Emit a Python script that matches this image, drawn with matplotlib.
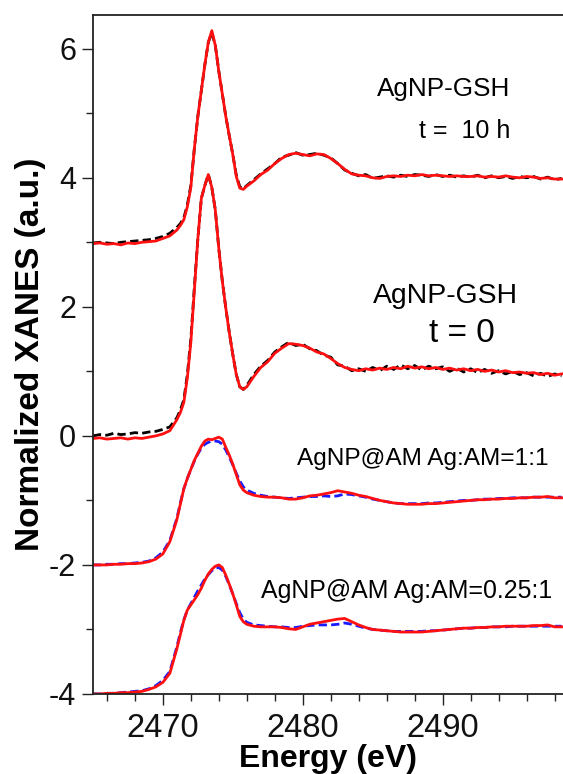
import numpy as np
import matplotlib
matplotlib.use("Agg")
import matplotlib.pyplot as plt
from matplotlib.ticker import MultipleLocator

plt.rcParams['font.family'] = ['Liberation Sans', 'DejaVu Sans']
plt.rcParams['axes.unicode_minus'] = False

# Energy sampling grid (eV)
energy = np.concatenate([np.arange(2465.0, 2470.51, 0.5),
                         np.arange(2471.0, 2476.01, 0.25),
                         np.arange(2476.5, 2498.51, 0.5)])

# AgNP-GSH, t = 10 h (offset +3)
gsh10_exp = [2.99, 3.00, 2.99, 2.98, 3.00, 3.01, 3.02, 3.03, 3.04, 3.06, 3.09, 3.14,
             3.23, 3.29, 3.38, 3.58, 3.88, 4.45, 4.95, 5.35, 5.75, 6.10, 6.25, 6.05, 5.65,
             5.30, 4.95, 4.65, 4.36, 4.04, 3.86, 3.83, 3.88,
             3.97, 4.06, 4.14, 4.22, 4.32, 4.35, 4.39, 4.35, 4.36, 4.38,
             4.35, 4.31, 4.22, 4.12, 4.07, 4.03, 4.05, 3.99, 4.01, 4.03,
             4.01, 4.04, 4.02, 4.05, 4.04, 4.02, 4.05, 4.02, 4.04, 4.01,
             4.03, 4.01, 4.04, 4.00, 4.03, 4.00, 4.02, 3.99, 4.02, 4.00,
             4.02, 3.98, 4.01, 3.97, 3.99]
gsh10_fit = [2.98, 2.99, 2.97, 2.98, 2.96, 2.99, 2.98, 3.00, 3.01, 3.02, 3.06, 3.10,
             3.19, 3.26, 3.35, 3.55, 3.85, 4.45, 4.95, 5.35, 5.75, 6.10, 6.28, 6.05, 5.65,
             5.30, 4.95, 4.65, 4.36, 4.02, 3.84, 3.82, 3.87,
             3.95, 4.05, 4.12, 4.22, 4.30, 4.36, 4.38, 4.36, 4.34, 4.37,
             4.36, 4.30, 4.22, 4.13, 4.06, 4.04, 4.03, 4.00, 3.99, 4.02,
             4.03, 4.02, 4.04, 4.03, 4.05, 4.03, 4.04, 4.03, 4.02, 4.03,
             4.02, 4.02, 4.03, 4.01, 4.02, 4.01, 4.03, 4.01, 4.00, 4.02,
             4.01, 3.99, 4.00, 3.98, 3.98]

# AgNP-GSH, t = 0 (offset 0)
gsh0_exp = [0.00, 0.02, 0.01, 0.04, 0.02, 0.03, 0.05, 0.04, 0.06, 0.07, 0.10, 0.14,
            0.28, 0.40, 0.56, 0.95, 1.50, 2.30, 3.05, 3.68, 3.88, 4.05, 3.85, 3.50, 2.90,
            2.40, 1.98, 1.60, 1.26, 0.95, 0.76, 0.72, 0.78,
            0.95, 1.08, 1.17, 1.30, 1.38, 1.45, 1.40, 1.42, 1.35, 1.32,
            1.25, 1.22, 1.10, 1.08, 1.01, 1.04, 1.00, 1.06, 1.01, 1.08,
            1.03, 1.10, 1.04, 1.09, 1.02, 1.08, 1.04, 1.07, 1.00, 1.05,
            0.99, 1.04, 0.98, 1.03, 0.97, 1.01, 0.96, 1.00, 0.95, 0.98,
            0.93, 0.97, 0.92, 0.96, 0.93]
gsh0_fit = [-0.04, -0.03, -0.05, -0.04, -0.03, -0.05, -0.03, -0.04, -0.02, 0.00, 0.03, 0.08,
            0.25, 0.36, 0.52, 0.90, 1.45, 2.25, 3.05, 3.68, 3.88, 4.05, 3.85, 3.50, 2.90,
            2.40, 1.98, 1.60, 1.26, 0.95, 0.76, 0.72, 0.76,
            0.92, 1.06, 1.15, 1.28, 1.36, 1.43, 1.42, 1.40, 1.36, 1.30,
            1.27, 1.20, 1.12, 1.06, 1.03, 1.01, 1.04, 1.02, 1.05, 1.03,
            1.06, 1.04, 1.08, 1.05, 1.07, 1.04, 1.06, 1.03, 1.05, 1.02,
            1.04, 1.01, 1.03, 1.00, 1.02, 0.99, 1.01, 0.98, 0.99, 0.97,
            0.98, 0.95, 0.97, 0.94, 0.96]

# AgNP@AM Ag:AM = 1:1 (offset -2)
am11_exp = [-2.00, -2.00, -1.99, -1.99, -1.98, -1.98, -1.97, -1.96, -1.94, -1.89, -1.80, -1.62,
            -1.28, -1.04, -0.82, -0.66, -0.52, -0.39, -0.28, -0.19, -0.13, -0.10, -0.08, -0.08, -0.09,
            -0.13, -0.22, -0.33, -0.45, -0.58, -0.70, -0.79, -0.84,
            -0.89, -0.92, -0.94, -0.95, -0.96, -0.97, -0.96, -0.95, -0.94, -0.94,
            -0.93, -0.94, -0.93, -0.90, -0.91, -0.93, -0.95, -0.98, -1.00, -1.02,
            -1.04, -1.05, -1.05, -1.05, -1.05, -1.04, -1.04, -1.03, -1.02, -1.01,
            -1.00, -1.00, -0.99, -0.98, -0.98, -0.97, -0.97, -0.96, -0.96, -0.96,
            -0.95, -0.95, -0.95, -0.95, -0.95]
am11_fit = [-2.00, -2.00, -2.00, -1.99, -1.99, -1.98, -1.98, -1.97, -1.95, -1.91, -1.83, -1.64,
            -1.30, -1.06, -0.82, -0.66, -0.52, -0.38, -0.27, -0.16, -0.08, -0.05, -0.06, -0.04, -0.02,
            -0.05, -0.18, -0.30, -0.44, -0.60, -0.76, -0.84, -0.88,
            -0.92, -0.94, -0.95, -0.95, -0.96, -0.98, -0.98, -0.96, -0.93, -0.92,
            -0.90, -0.88, -0.85, -0.87, -0.89, -0.92, -0.94, -0.97, -1.00, -1.02,
            -1.04, -1.05, -1.06, -1.06, -1.06, -1.05, -1.05, -1.04, -1.03, -1.02,
            -1.01, -1.00, -0.99, -0.99, -0.98, -0.98, -0.97, -0.97, -0.96, -0.96,
            -0.95, -0.95, -0.94, -0.96, -0.96]

# AgNP@AM Ag:AM = 0.25:1 (offset -4)
am025_exp = [-4.00, -4.00, -3.99, -3.99, -3.98, -3.97, -3.96, -3.95, -3.92, -3.87, -3.79, -3.65,
             -3.27, -3.05, -2.85, -2.70, -2.60, -2.50, -2.40, -2.31, -2.22, -2.15, -2.09, -2.05, -2.04,
             -2.08, -2.18, -2.31, -2.45, -2.60, -2.74, -2.84, -2.89,
             -2.93, -2.94, -2.95, -2.96, -2.96, -2.97, -2.97, -2.95, -2.94, -2.93,
             -2.93, -2.93, -2.92, -2.90, -2.92, -2.95, -2.98, -3.00, -3.01, -3.02,
             -3.03, -3.03, -3.03, -3.03, -3.03, -3.02, -3.02, -3.01, -3.00, -2.99,
             -2.98, -2.98, -2.97, -2.97, -2.96, -2.96, -2.96, -2.95, -2.95, -2.95,
             -2.95, -2.95, -2.95, -2.95, -2.95]
am025_fit = [-4.00, -4.00, -3.99, -3.99, -3.98, -3.98, -3.97, -3.96, -3.93, -3.89, -3.82, -3.68,
             -3.30, -3.08, -2.86, -2.70, -2.62, -2.54, -2.46, -2.36, -2.24, -2.14, -2.07, -2.02, -2.00,
             -2.04, -2.16, -2.30, -2.45, -2.62, -2.80, -2.88, -2.92,
             -2.95, -2.96, -2.96, -2.96, -2.97, -2.99, -3.00, -2.96, -2.92, -2.90,
             -2.88, -2.86, -2.84, -2.83, -2.88, -2.93, -2.97, -3.00, -3.01, -3.02,
             -3.03, -3.04, -3.04, -3.04, -3.04, -3.03, -3.02, -3.01, -3.00, -2.99,
             -2.98, -2.98, -2.97, -2.97, -2.96, -2.96, -2.95, -2.95, -2.95, -2.95,
             -2.94, -2.94, -2.93, -2.96, -2.96]

labels = ["AgNP-GSH", "t =  10 h", "AgNP-GSH", "t = 0",
          "AgNP@AM Ag:AM=1:1", "AgNP@AM Ag:AM=0.25:1"]

fig = plt.figure(figsize=(5.63, 7.74), dpi=100)
ax = fig.add_axes([0.165, 0.1034, 0.835, 0.877])

dash_blk = (0, (3.0, 1.5))
dash_blu = (0, (3.0, 1.5))
ax.plot(energy, gsh10_exp, color='black', lw=2.0, linestyle=dash_blk)
ax.plot(energy, gsh10_fit, color='#ff1010', lw=2.0)
ax.plot(energy, gsh0_exp, color='black', lw=2.0, linestyle=dash_blk)
ax.plot(energy, gsh0_fit, color='#ff1010', lw=2.0)
ax.plot(energy, am11_exp, color='#1a1aff', lw=2.0, linestyle=dash_blu)
ax.plot(energy, am11_fit, color='#ff1010', lw=2.0)
ax.plot(energy, am025_exp, color='#1a1aff', lw=2.0, linestyle=dash_blu)
ax.plot(energy, am025_fit, color='#ff1010', lw=2.0)

ax.set_xlim(2465, 2498.6)
ax.set_ylim(-4, 6.52)

ax.xaxis.set_major_locator(MultipleLocator(10))
ax.xaxis.set_minor_locator(MultipleLocator(2))
ax.yaxis.set_major_locator(MultipleLocator(2))
ax.yaxis.set_minor_locator(MultipleLocator(1))

ax.spines['right'].set_visible(False)
for s in ['left', 'bottom', 'top']:
    ax.spines[s].set_linewidth(1.3)
    ax.spines[s].set_color('#222222')
ax.tick_params(which='major', direction='out', length=8, width=1.0, color='#222222')
ax.tick_params(which='minor', direction='out', length=5, width=1.0, color='#222222')
ax.tick_params(axis='x', labelsize=23.5, pad=6, labelcolor='#111111')
ax.tick_params(axis='y', labelsize=22, pad=4, labelcolor='#111111')
ax.tick_params(top=False, right=False)

ax.set_xlabel("Energy (eV)", fontsize=23, fontweight='bold', labelpad=0)
ax.set_ylabel("Normalized XANES (a.u.)", fontsize=24, fontweight='bold', labelpad=2)

ax.text(2490.1, 5.37, labels[0], fontsize=18.8, ha='center', va='center')
ax.text(2491.6, 4.72, labels[1], fontsize=18, ha='center', va='center')
ax.text(2490.2, 2.16, labels[2], fontsize=20.4, ha='center', va='center')
ax.text(2491.4, 1.58, labels[3], fontsize=24, ha='center', va='center')
ax.text(2488.6, -0.36, labels[4], fontsize=17.6, ha='center', va='center')
ax.text(2487.4, -2.40, labels[5], fontsize=17.9, ha='center', va='center')

fig.savefig("out.png", dpi=100)
